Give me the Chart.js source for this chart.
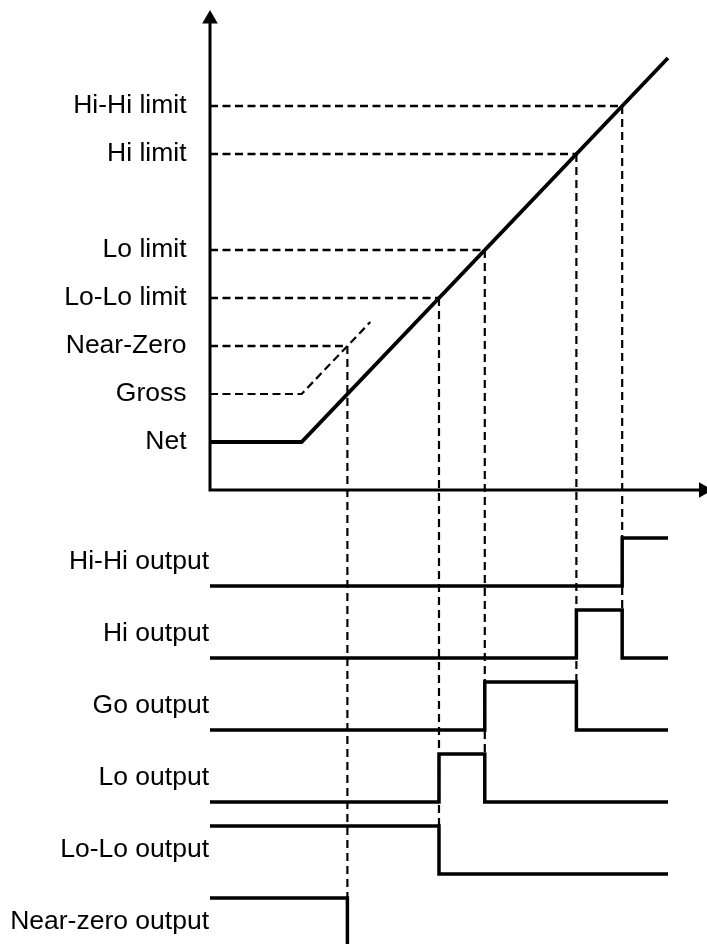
<!DOCTYPE html>
<html>
<head>
<meta charset="utf-8">
<script src="https://cdn.jsdelivr.net/npm/chart.js@4/dist/chart.umd.min.js"></script>
<style>
  html, body { margin: 0; padding: 0; background: #fff; }
  #wrap { width: 707px; height: 944px; position: relative; }
</style>
</head>
<body>
<div id="wrap"><canvas id="c"></canvas></div>
<script>
// ---- data ----
const limitLabels = ['Net', 'Gross', 'Near-Zero', 'Lo-Lo limit', 'Lo limit', 'Hi limit', 'Hi-Hi limit'];
const limitLevels = [0, 1, 2, 3, 4, 6, 7];

// weight signal (time, value)
const weightTime  = [0, 2, 10];
const weightValue = [0, 0, 8];

// gross reference (dashed)
const grossTime  = [0, 2, 3.5];
const grossValue = [1, 1, 2.5];

// crossing of weight with each limit
const crossLevels = [2, 3, 4, 6, 7];      // Near-Zero, Lo-Lo, Lo, Hi, Hi-Hi
const crossTimes  = [3, 5, 6, 8, 9];
const crossDropRow = [5, 4, 3, 2, 1];     // output row the guide drops to

// outputs
const outputLabels = ['Hi-Hi output', 'Hi output', 'Go output', 'Lo output', 'Lo-Lo output', 'Near-zero output'];
const switchTimes  = [0, 3, 5, 6, 8, 9, 10];
const hiHiOut      = [0, 0, 0, 0, 0, 1, 1];
const hiOut        = [0, 0, 0, 0, 1, 0, 0];
const goOut        = [0, 0, 0, 1, 0, 0, 0];
const loOut        = [0, 0, 1, 0, 0, 0, 0];
const loLoOut      = [1, 1, 0, 0, 0, 0, 0];
const nearZeroOut  = [1, 0, 0, 0, 0, 0, 0];
const outputStates = [hiHiOut, hiOut, goOut, loOut, loLoOut, nearZeroOut];

// ---- layout of the diagram in data units ----
const rowTop = -3, rowStep = 1.5;
const rowBase = i => rowTop - rowStep * i;
const axisLevel = -1;
const Y_MIN = -10.4583, Y_MAX = 9.2083;
const X_MIN = 0, X_MAX = 10.852;
const LABEL_W = 210;

const pts = (xs, ys) => xs.map((x, i) => ({ x: x, y: ys[i] }));
const BLACK = '#000';
const datasets = [];

// axes with arrows
datasets.push({
  data: [{ x: 0, y: 8.81 }, { x: 0, y: axisLevel }, { x: 10.775, y: axisLevel }],
  borderColor: BLACK, borderWidth: 3, borderJoinStyle: 'miter',
  pointStyle: 'triangle', pointRadius: [9, 0, 9], pointRotation: [0, 0, 90],
  pointBackgroundColor: BLACK, pointBorderWidth: 0, pointHoverRadius: 0
});

// horizontal dashed limit guides
crossLevels.forEach((lv, i) => {
  datasets.push({
    data: [{ x: 0, y: lv }, { x: crossTimes[i], y: lv }],
    borderColor: BLACK, borderWidth: 2.4, borderDash: [8, 4.5], pointRadius: 0
  });
});
// gross dashed
datasets.push({
  data: pts(grossTime, grossValue),
  borderColor: BLACK, borderWidth: 2.2, borderDash: [8, 4.5], pointRadius: 0
});
// vertical dashed guides
crossTimes.forEach((t, i) => {
  datasets.push({
    data: [{ x: t, y: crossLevels[i] }, { x: t, y: rowBase(crossDropRow[i]) + 1 }],
    borderColor: BLACK, borderWidth: 2.2, borderDash: [8, 5], pointRadius: 0
  });
});
// weight
datasets.push({
  data: pts(weightTime, weightValue),
  borderColor: BLACK, borderWidth: 3.8, borderJoinStyle: 'miter', pointRadius: 0
});
// outputs
outputStates.forEach((st, r) => {
  datasets.push({
    data: switchTimes.map((t, i) => ({ x: t, y: rowBase(r) + st[i] })),
    stepped: 'before',
    borderColor: BLACK, borderWidth: 3.5, borderJoinStyle: 'miter', pointRadius: 0
  });
});
datasets.forEach(d => { d.showLine = true; d.clip = false; d.fill = false; });

const FONT = { family: '"Liberation Sans", Arial, sans-serif', size: 26.5 };

// let both label axes share the full label column left of the plot
const shareLabelColumn = {
  id: 'shareLabelColumn',
  afterLayout(chart) {
    ['y', 'yOut'].forEach(id => {
      const s = chart.scales[id];
      s.left = 0; s.right = LABEL_W; s.width = LABEL_W;
      s._labelItems = null;
    });
  }
};

new Chart(document.getElementById('c'), {
  type: 'scatter',
  data: { datasets: datasets },
  plugins: [shareLabelColumn],
  options: {
    responsive: true,
    maintainAspectRatio: false,
    animation: false,
    events: [],
    layout: { padding: 0, autoPadding: false },
    plugins: { legend: { display: false }, tooltip: { enabled: false } },
    scales: {
      x: { type: 'linear', display: false, min: X_MIN, max: X_MAX },
      y: {
        type: 'linear', position: 'left', weight: 1, min: Y_MIN, max: Y_MAX,
        grid: { display: false, drawTicks: false, tickLength: 0 }, border: { display: false },
        afterBuildTicks: s => { s.ticks = limitLevels.map(v => ({ value: v })); },
        afterFit: s => { s.width = LABEL_W; s.paddingTop = 0; s.paddingBottom = 0; },
        ticks: {
          autoSkip: false, padding: 23.5, color: BLACK, font: FONT,
          callback: v => limitLabels[limitLevels.indexOf(v)]
        }
      },
      yOut: {
        type: 'linear', position: 'left', weight: 0, min: Y_MIN, max: Y_MAX,
        grid: { display: false, drawTicks: false, tickLength: 0 }, border: { display: false },
        afterBuildTicks: s => { s.ticks = outputLabels.map((l, i) => ({ value: rowBase(i) + 0.5 })); },
        afterFit: s => { s.width = 0; s.paddingTop = 0; s.paddingBottom = 0; },
        ticks: {
          autoSkip: false, padding: 1, color: BLACK, font: FONT,
          callback: (v, i) => outputLabels[i]
        }
      }
    }
  }
});
</script>
</body>
</html>
